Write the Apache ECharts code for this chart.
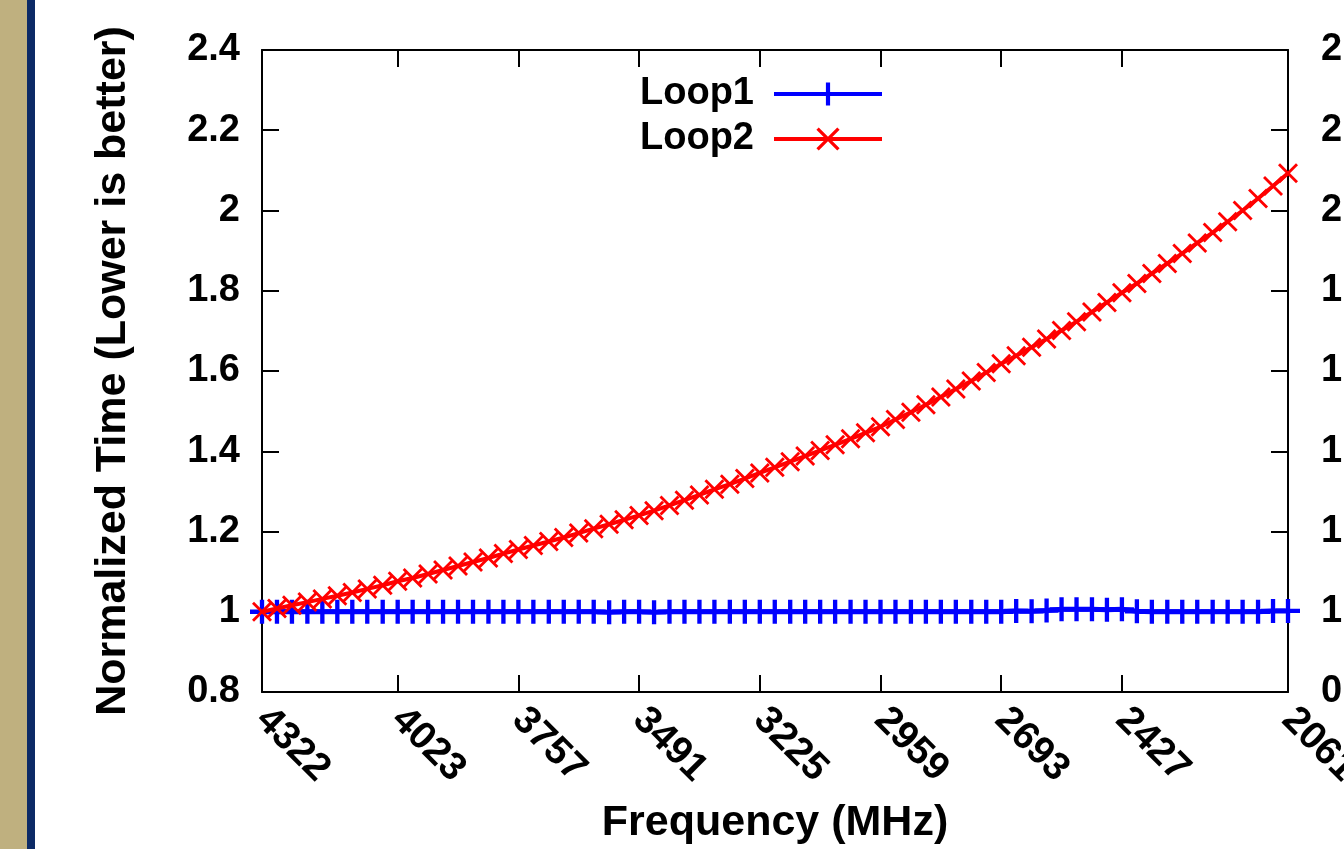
<!DOCTYPE html>
<html>
<head>
<meta charset="utf-8">
<script src="https://cdn.jsdelivr.net/npm/echarts@6/dist/echarts.min.js"></script>
<style>
html,body{margin:0;padding:0;background:#fff;}
#chart{width:1344px;height:849px;}
</style>
</head>
<body>
<div id="chart"></div>
<script>
// Frequencies (MHz), x values of each measured point
const freqs = [4322, 4289, 4256, 4222, 4189, 4156, 4123, 4090, 4056, 4023,
  3990, 3956, 3923, 3890, 3857, 3823, 3790, 3757,
  3724, 3690, 3657, 3624, 3591, 3557, 3524, 3491,
  3458, 3424, 3391, 3358, 3325, 3291, 3258, 3225,
  3192, 3158, 3125, 3092, 3059, 3025, 2992, 2959,
  2926, 2892, 2859, 2826, 2793, 2759, 2726, 2693,
  2660, 2626, 2593, 2560, 2527, 2493, 2460, 2427,
  2394, 2361, 2327, 2294, 2261, 2227, 2194, 2161, 2127, 2094, 2061];

const loop1 = [1.000, 1.000, 1.000, 1.000, 1.000, 1.000, 1.000, 1.000, 1.000, 1.000,
  1.000, 1.000, 1.000, 1.000, 1.000, 1.000, 1.000, 1.000,
  1.000, 1.000, 1.000, 1.000, 1.000, 0.999, 1.000, 1.000,
  0.999, 1.000, 1.000, 1.000, 1.000, 1.000, 1.000, 1.000,
  1.000, 1.000, 1.000, 1.000, 1.000, 1.000, 1.000, 1.000,
  1.000, 1.000, 1.000, 1.000, 1.000, 1.000, 1.000, 1.000,
  1.002, 1.001, 1.003, 1.006, 1.006, 1.006, 1.005, 1.006,
  1.001, 1.000, 1.000, 1.000, 1.000, 1.000, 1.000, 1.000, 1.000, 1.002, 1.002];

const loop2 = [1.000, 1.008, 1.016, 1.024, 1.032, 1.040, 1.048, 1.057, 1.066, 1.076,
  1.084, 1.094, 1.104, 1.114, 1.124, 1.134, 1.145, 1.155,
  1.165, 1.175, 1.185, 1.196, 1.207, 1.218, 1.229, 1.240,
  1.252, 1.265, 1.278, 1.291, 1.305, 1.318, 1.332, 1.346,
  1.360, 1.374, 1.388, 1.402, 1.416, 1.431, 1.446, 1.461,
  1.479, 1.497, 1.516, 1.535, 1.555, 1.575, 1.596, 1.618,
  1.638, 1.659, 1.680, 1.701, 1.723, 1.747, 1.771, 1.795,
  1.818, 1.843, 1.868, 1.893, 1.919, 1.945, 1.972, 2.000, 2.030, 2.061, 2.093];

const xTickValues = [4322, 4023, 3757, 3491, 3225, 2959, 2693, 2427, 2061];
const yMin = 0.8, yMax = 2.4, yStep = 0.2;

const FONT = '"Liberation Sans", Arial, sans-serif';
const PLUS = 'path://M41,0L59,0L59,41L100,41L100,59L59,59L59,100L41,100L41,59L0,59L0,41L41,41Z';
const CROSS = 'path://M0,10L10,0L50,40L90,0L100,10L60,50L100,90L90,100L50,60L10,100L0,90L40,50Z';

const chart = echarts.init(document.getElementById('chart'), null, {renderer: 'canvas'});

const axisLineStyle = {color: '#000', width: 2};
const tickStyle = {color: '#000', width: 2};

const option = {
  animation: false,
  backgroundColor: '#fff',
  graphic: [
    {type: 'rect', left: 0, top: 0, shape: {width: 27, height: 849}, style: {fill: '#bfb07f'}, z: 100},
    {type: 'rect', left: 27, top: 0, shape: {width: 8, height: 849}, style: {fill: '#0c2a66'}, z: 100}
  ],
  grid: {left: 262, right: 56, top: 50, bottom: 157, containLabel: false, outerBoundsMode: 'none'},
  legend: {
    orient: 'vertical',
    align: 'right',
    right: 455,
    top: 70,
    itemWidth: 108,
    itemHeight: 29,
    itemGap: 7,
    lineStyle: {width: 4},
    textStyle: {fontFamily: FONT, fontWeight: 'bold', fontSize: 38, color: '#000', padding: [0, 15, 0, 0]},
    data: ['Loop1', 'Loop2']
  },
  xAxis: [
    {
      type: 'value',
      min: 2061, max: 4322,
      inverse: true,
      position: 'bottom',
      name: 'Frequency (MHz)',
      nameLocation: 'middle',
      nameGap: 110,
      nameTextStyle: {fontFamily: FONT, fontWeight: 'bold', fontSize: 43, color: '#000'},
      axisLine: {show: true, lineStyle: axisLineStyle},
      axisTick: {show: true, inside: true, length: 17, lineStyle: tickStyle, customValues: xTickValues},
      axisLabel: {show: true, customValues: xTickValues, rotate: -45, margin: 22,
        formatter: v => String(Math.round(v)),
        fontFamily: FONT, fontWeight: 'bold', fontSize: 39, color: '#000', showMinLabel: true, showMaxLabel: true},
      splitLine: {show: false}
    },
    {
      type: 'value',
      min: 2061, max: 4322,
      inverse: true,
      position: 'top',
      axisLine: {show: true, lineStyle: axisLineStyle},
      axisTick: {show: true, inside: true, length: 17, lineStyle: tickStyle, customValues: xTickValues},
      axisLabel: {show: false},
      splitLine: {show: false}
    }
  ],
  yAxis: [
    {
      type: 'value',
      min: yMin, max: yMax, interval: yStep,
      position: 'left',
      name: 'Normalized Time (Lower is better)',
      nameLocation: 'middle',
      nameGap: 127,
      nameTextStyle: {fontFamily: FONT, fontWeight: 'bold', fontSize: 43, color: '#000'},
      axisLine: {show: true, lineStyle: axisLineStyle},
      axisTick: {show: true, inside: true, length: 17, lineStyle: tickStyle},
      axisLabel: {margin: 22, fontFamily: FONT, fontWeight: 'bold', fontSize: 38, color: '#000'},
      splitLine: {show: false}
    },
    {
      type: 'value',
      min: yMin, max: yMax, interval: yStep,
      position: 'right',
      axisLine: {show: true, lineStyle: axisLineStyle},
      axisTick: {show: true, inside: true, length: 17, lineStyle: tickStyle},
      axisLabel: {margin: 33, fontFamily: FONT, fontWeight: 'bold', fontSize: 38, color: '#000'},
      splitLine: {show: false}
    }
  ],
  series: [
    {
      name: 'Loop1',
      type: 'line',
      xAxisIndex: 0, yAxisIndex: 0,
      data: freqs.map((f, i) => [f, loop1[i]]),
      symbol: PLUS,
      symbolSize: 24,
      showSymbol: true,
      showAllSymbol: true,
      clip: false,
      color: '#0000ff',
      itemStyle: {color: '#0000ff'},
      lineStyle: {color: '#0000ff', width: 5},
      emphasis: {disabled: true},
      z: 2
    },
    {
      name: 'Loop2',
      type: 'line',
      xAxisIndex: 0, yAxisIndex: 0,
      data: freqs.map((f, i) => [f, loop2[i]]),
      symbol: CROSS,
      symbolSize: 20,
      showSymbol: true,
      showAllSymbol: true,
      clip: false,
      color: '#ff0000',
      itemStyle: {color: '#ff0000'},
      lineStyle: {color: '#ff0000', width: 4},
      emphasis: {disabled: true},
      z: 3
    }
  ]
};
chart.setOption(option);
</script>
</body>
</html>
